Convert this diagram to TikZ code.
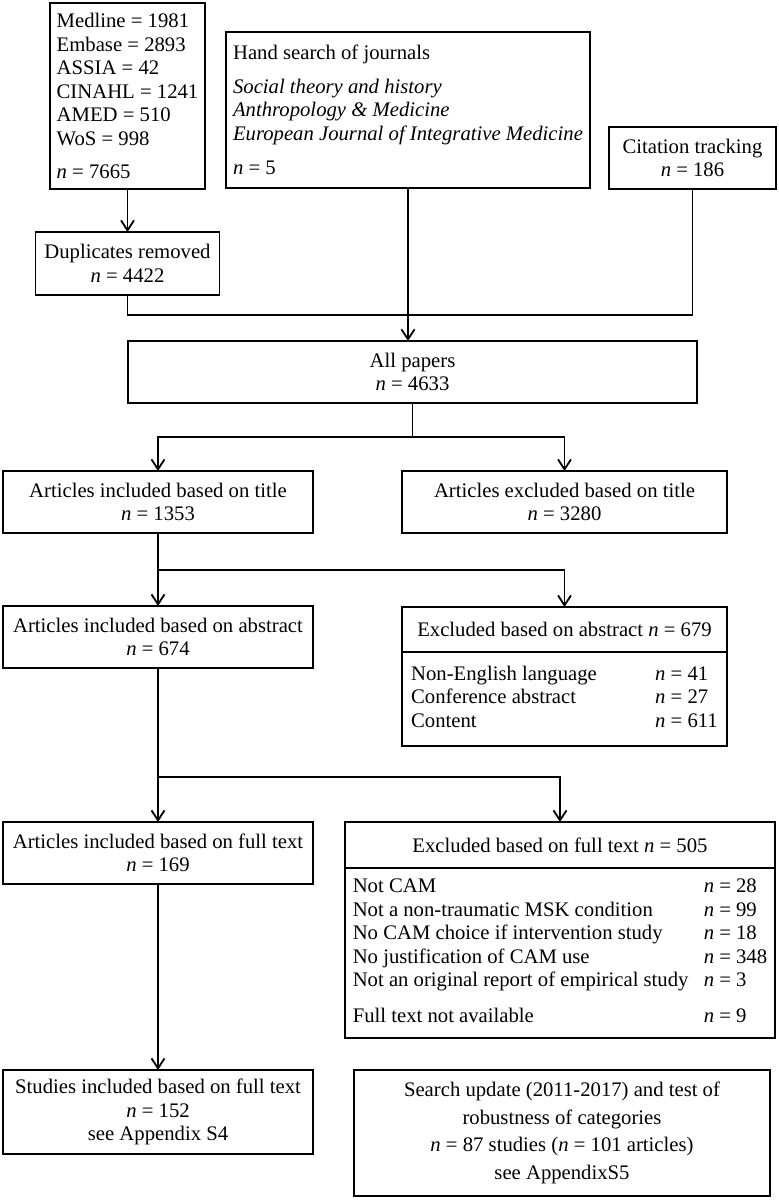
\documentclass[tikz,border=0pt]{standalone}
\usepackage{fontspec}
\setmainfont{Liberation Serif}
\usetikzlibrary{positioning,arrows.meta}
\newcommand{\nval}[1]{\textit{n} = #1}

\begin{document}
\begin{tikzpicture}[x=1pt,y=-1pt,line width=1.8pt,
    font=\fontsize{20.7}{23.5}\selectfont,
    box/.style={draw,inner sep=0pt,outer sep=0pt,align=center},
    >={Straight Barb[length=10pt,width=13pt]}]
    \useasboundingbox (0,0) rectangle (779,1200);
    % sources
    \node[box,align=left,minimum width=155pt,minimum height=186pt] (db) at (127.5,96)
        {Medline = 1981\\Embase = 2893\\ASSIA = 42\\CINAHL = 1241\\AMED = 510\\WoS = 998\\[10pt]\nval{7665}};
    \node[box,align=left,minimum width=364pt,minimum height=156pt] (hand) at (408,110)
        {Hand search of journals\\[10pt]\textit{Social theory and history}\\\textit{Anthropology \& Medicine}\\\textit{European Journal of Integrative Medicine}\\[11pt]\nval{5}};
    \node[box,minimum width=167pt,minimum height=62pt] (cite) at (692.5,158) {Citation tracking\\\nval{186}};
    \node[box,minimum width=184pt,minimum height=63pt] (dup) at (127.5,263.5) {Duplicates removed\\\nval{4422}};
    \node[box,minimum width=569pt,minimum height=62pt] (all) at (412.5,372) {All papers\\\nval{4633}};
    % screening
    \node[box,minimum width=310pt,minimum height=62pt] (inT) at (158,502) {Articles included based on title\\\nval{1353}};
    \node[box,minimum width=325pt,minimum height=62pt] (exT) at (564.5,502) {Articles excluded based on title\\\nval{3280}};
    \node[box,minimum width=310pt,minimum height=62pt] (inA) at (158,637) {Articles included based on abstract\\\nval{674}};
    \node[box,minimum width=325pt,minimum height=45pt] (exAh) at (564.5,629.5) {Excluded based on abstract \nval{679}};
    \node[box,minimum width=325pt,minimum height=94pt] (exAl) [below=0pt of exAh]
        {\begin{tabular}{@{}p{244pt}@{}l@{}}
         Non-English language & \nval{41}\\
         Conference abstract & \nval{27}\\
         Content & \nval{611}
         \end{tabular}};
    \node[box,minimum width=310pt,minimum height=62pt] (inF) at (158,853) {Articles included based on full text\\\nval{169}};
    \node[box,minimum width=430pt,minimum height=46pt] (exFh) at (560,845) {Excluded based on full text \nval{505}};
    \node[box,minimum width=430pt,minimum height=170pt] (exFl) [below=0pt of exFh]
        {\begin{tabular}{@{}p{351pt}@{}l@{}}
         Not CAM & \nval{28}\\
         Not a non-traumatic MSK condition & \nval{99}\\
         No CAM choice if intervention study & \nval{18}\\
         No justification of CAM use & \nval{348}\\
         Not an original report of empirical study & \nval{3}\\[12pt]
         Full text not available & \nval{9}
         \end{tabular}};
    \node[box,minimum width=310pt,minimum height=84pt] (stud) at (158,1112) {Studies included based on full text\\\nval{152}\\see Appendix S4};
    \node[box,minimum width=416pt,minimum height=126pt,font=\fontsize{20.7}{27.5}\selectfont] (upd) at (562,1133)
        {Search update (2011-2017) and test of\\robustness of categories\\\nval{87} studies (\nval{101} articles)\\see AppendixS5};
    % connectors
    \coordinate (s0) at (0,315);
    \coordinate (s1) at (0,437);
    \coordinate (s2) at (0,570);
    \coordinate (s3) at (0,777);
    \draw[->] (db.south) -- (dup.north);
    \draw (dup.south) |- (hand.south |- s0);
    \draw (cite.south) |- (hand.south |- s0);
    \draw[->] (hand.south) -- (hand.south |- all.north);
    \draw[->] (all.south) -- (all.south |- s1) -| (inT.north);
    \draw[->] (all.south |- s1) -| (exT.north);
    \draw[->] (inT) -- (inA);
    \draw[->] (inT.south |- s2) -| (exAh.north);
    \draw[->] (inA) -- (inF);
    \draw[->] (inA.south |- s3) -| (exFh.north);
    \draw[->] (inF) -- (stud);
\end{tikzpicture}
\end{document}
